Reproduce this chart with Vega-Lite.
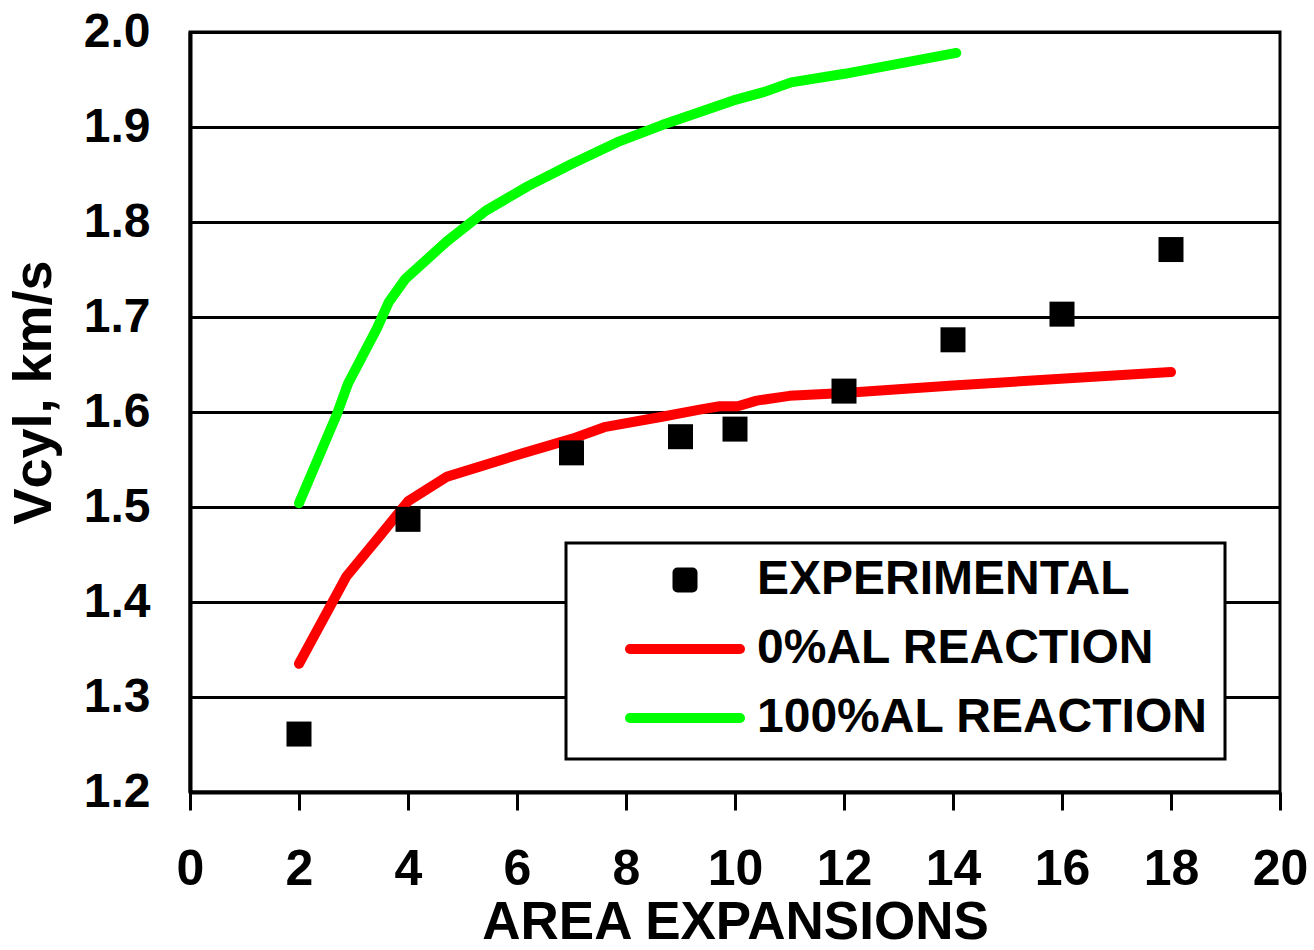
{
  "$schema": "https://vega.github.io/schema/vega-lite/v6.json",
  "width": 1090,
  "height": 760,
  "autosize": {"type": "none"},
  "padding": {"left": 190, "top": 32, "right": 34, "bottom": 158},
  "background": "white",
  "config": {
    "font": "Liberation Sans",
    "view": {"stroke": "black", "strokeWidth": 3},
    "axis": {
      "labelFont": "Liberation Sans",
      "labelFontWeight": "bold",
      "labelColor": "black",
      "titleFont": "Liberation Sans",
      "titleFontWeight": "bold",
      "titleColor": "black",
      "domainColor": "black",
      "domainWidth": 4,
      "tickColor": "black",
      "tickWidth": 3,
      "gridColor": "black",
      "gridWidth": 3,
      "gridOpacity": 1
    }
  },
  "datasets": {
    "exp": [
      {"series": "EXPERIMENTAL", "x": 2, "y": 1.261},
      {"series": "EXPERIMENTAL", "x": 4, "y": 1.487},
      {"series": "EXPERIMENTAL", "x": 7, "y": 1.557},
      {"series": "EXPERIMENTAL", "x": 9, "y": 1.574},
      {"series": "EXPERIMENTAL", "x": 10, "y": 1.582},
      {"series": "EXPERIMENTAL", "x": 12, "y": 1.622},
      {"series": "EXPERIMENTAL", "x": 14, "y": 1.676},
      {"series": "EXPERIMENTAL", "x": 16, "y": 1.703},
      {"series": "EXPERIMENTAL", "x": 18, "y": 1.771}
    ],
    "model": [
      {"series": "0%AL REACTION", "x": 2.0, "y": 1.335},
      {"series": "0%AL REACTION", "x": 2.87, "y": 1.427},
      {"series": "0%AL REACTION", "x": 3.49, "y": 1.470},
      {"series": "0%AL REACTION", "x": 4.0, "y": 1.506},
      {"series": "0%AL REACTION", "x": 4.72, "y": 1.532},
      {"series": "0%AL REACTION", "x": 6.13, "y": 1.557},
      {"series": "0%AL REACTION", "x": 7.02, "y": 1.572},
      {"series": "0%AL REACTION", "x": 7.6, "y": 1.584},
      {"series": "0%AL REACTION", "x": 8.66, "y": 1.595},
      {"series": "0%AL REACTION", "x": 9.4, "y": 1.603},
      {"series": "0%AL REACTION", "x": 9.72, "y": 1.606},
      {"series": "0%AL REACTION", "x": 10.05, "y": 1.606},
      {"series": "0%AL REACTION", "x": 10.4, "y": 1.612},
      {"series": "0%AL REACTION", "x": 11.0, "y": 1.617},
      {"series": "0%AL REACTION", "x": 12.0, "y": 1.620},
      {"series": "0%AL REACTION", "x": 14.0, "y": 1.628},
      {"series": "0%AL REACTION", "x": 18.0, "y": 1.642},
      {"series": "100%AL REACTION", "x": 2.0, "y": 1.504},
      {"series": "100%AL REACTION", "x": 2.69, "y": 1.597},
      {"series": "100%AL REACTION", "x": 2.9, "y": 1.630},
      {"series": "100%AL REACTION", "x": 3.43, "y": 1.688},
      {"series": "100%AL REACTION", "x": 3.65, "y": 1.716},
      {"series": "100%AL REACTION", "x": 3.95, "y": 1.740},
      {"series": "100%AL REACTION", "x": 4.72, "y": 1.780},
      {"series": "100%AL REACTION", "x": 5.43, "y": 1.812},
      {"series": "100%AL REACTION", "x": 6.21, "y": 1.838},
      {"series": "100%AL REACTION", "x": 7.0, "y": 1.861},
      {"series": "100%AL REACTION", "x": 7.84, "y": 1.884},
      {"series": "100%AL REACTION", "x": 8.66, "y": 1.902},
      {"series": "100%AL REACTION", "x": 9.97, "y": 1.928},
      {"series": "100%AL REACTION", "x": 10.54, "y": 1.937},
      {"series": "100%AL REACTION", "x": 11.03, "y": 1.947},
      {"series": "100%AL REACTION", "x": 12.01, "y": 1.956},
      {"series": "100%AL REACTION", "x": 14.06, "y": 1.978}
    ]
  },
  "encoding": {
    "x": {
      "field": "x",
      "type": "quantitative",
      "scale": {"domain": [0, 20], "nice": false, "zero": false},
      "axis": {
        "title": "AREA EXPANSIONS",
        "values": [0, 2, 4, 6, 8, 10, 12, 14, 16, 18, 20],
        "grid": false,
        "tickSize": 18,
        "labelFontSize": 50,
        "labelPadding": 34,
        "labelFlush": false,
        "labelOverlap": false,
        "titleFontSize": 53,
        "titlePadding": 2
      }
    },
    "y": {
      "field": "y",
      "type": "quantitative",
      "scale": {"domain": [1.2, 2.0], "nice": false, "zero": false},
      "axis": {
        "title": "Vcyl, km/s",
        "titleY": 360,
        "values": [1.2, 1.3, 1.4, 1.5, 1.6, 1.7, 1.8, 1.9, 2.0],
        "format": ".1f",
        "grid": true,
        "ticks": false,
        "labelFontSize": 48,
        "labelPadding": 40,
        "labelFlush": false,
        "labelOverlap": false,
        "titleFontSize": 54,
        "titlePadding": 22
      }
    }
  },
  "layer": [
    {
      "data": {"name": "model"},
      "mark": {"type": "line", "strokeWidth": 10, "strokeCap": "round", "strokeJoin": "round"},
      "encoding": {
        "color": {
          "field": "series",
          "type": "nominal",
          "scale": {
            "domain": ["EXPERIMENTAL", "0%AL REACTION", "100%AL REACTION"],
            "range": ["#000000", "#ff0000", "#00ff00"]
          },
          "legend": {
            "title": null,
            "orient": "none",
            "legendX": 376,
            "legendY": 511,
            "padding": 17,
            "fillColor": "white",
            "strokeColor": "black",
            "symbolSize": 12100,
            "symbolStrokeWidth": 10,
            "symbolOffset": 42,
            "labelOffset": 12,
            "labelFont": "Liberation Sans",
            "labelFontWeight": "bold",
            "labelFontSize": 48,
            "labelColor": "black",
            "labelLimit": 600,
            "clipHeight": 40,
            "rowPadding": 21,
            "encode": {
              "legend": {
                "update": {"strokeWidth": {"value": 3}}
              },
              "symbols": {
                "update": {
                  "shape": {"signal": "datum.value === 'EXPERIMENTAL' ? 'square' : 'stroke'"},
                  "size": {"signal": "datum.value === 'EXPERIMENTAL' ? 225 : 12100"},
                  "fill": {"signal": "datum.value === 'EXPERIMENTAL' ? '#000000' : 'transparent'"},
                  "stroke": {"signal": "datum.value === 'EXPERIMENTAL' ? '#000000' : (datum.value === '0%AL REACTION' ? '#ff0000' : '#00ff00')"},
                  "strokeWidth": {"value": 10},
                  "strokeCap": {"value": "round"},
                  "strokeJoin": {"value": "round"},
                  "opacity": {"value": 1}
                }
              }
            }
          }
        }
      }
    },
    {
      "data": {"name": "exp"},
      "mark": {"type": "point", "shape": "square", "filled": true, "size": 625, "opacity": 1, "strokeWidth": 0},
      "encoding": {
        "color": {"field": "series", "type": "nominal"}
      }
    }
  ]
}
